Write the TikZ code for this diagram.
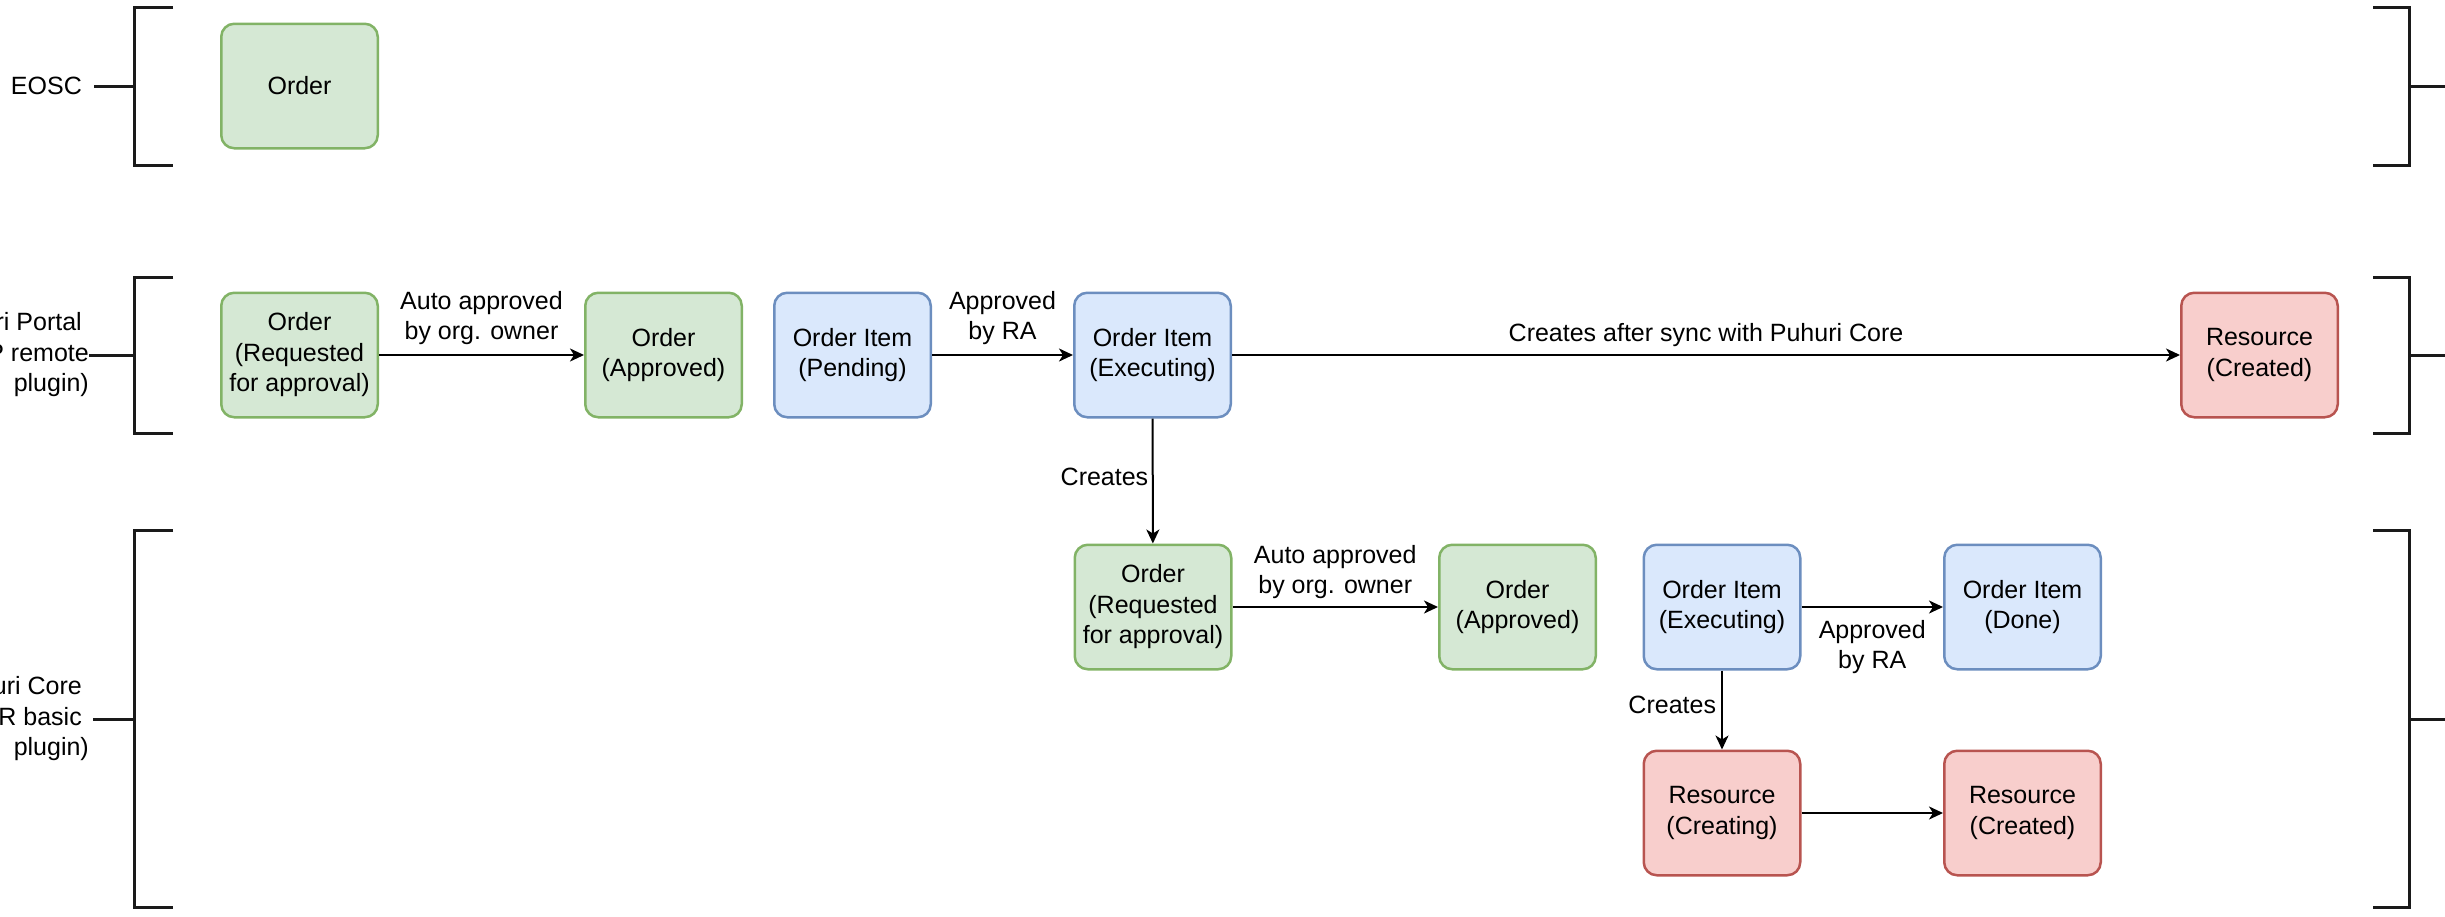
\documentclass[tikz,border=0pt]{standalone}
\usepackage{fontspec}
\setmainfont{Liberation Sans}
\usetikzlibrary{arrows.meta}

\definecolor{ordfill}{HTML}{D5E8D4}
\definecolor{ordline}{HTML}{82B366}
\definecolor{itemfill}{HTML}{DAE8FC}
\definecolor{itemline}{HTML}{6C8EBF}
\definecolor{resfill}{HTML}{F8CECC}
\definecolor{resline}{HTML}{B85450}
\definecolor{ink}{HTML}{1A1A1A}

\begin{document}
\begin{tikzpicture}[
  x=1pt, y=-1pt,
  font=\fontsize{25}{30.5}\selectfont,
  state/.style={rounded corners=13pt, line width=2.5pt, minimum width=156.5pt,
    minimum height=124.5pt, align=center, inner sep=0pt},
  orderbox/.style={state, fill=ordfill, draw=ordline},
  itembox/.style={state, fill=itemfill, draw=itemline},
  resbox/.style={state, fill=resfill, draw=resline},
  flow/.style={line width=2pt, draw=black, -{Stealth[length=14pt,width=13pt,inset=4pt]}},
  lbl/.style={align=center, inner sep=0pt},
  lane/.style={align=right, inner sep=0pt, anchor=east},
  bracket/.style={line width=3pt, draw=ink}
]
\useasboundingbox (0,0) rectangle (2445,916);
\clip (0,0) rectangle (2445,916);

% ---- swimlane brackets, left side ----
\draw[bracket] (173,7)   -- (134,7)   -- (134,165) -- (173,165);
\draw[bracket] (173,277) -- (134,277) -- (134,433) -- (173,433);
\draw[bracket] (173,530) -- (134,530) -- (134,907) -- (173,907);
\coordinate (lb1) at (134,86);
\coordinate (lb2) at (134,355);
\coordinate (lb3) at (134,719);

% ---- swimlane brackets, right side ----
\draw[bracket] (2373,7)   -- (2409,7)   -- (2409,165) -- (2373,165);
\draw[bracket] (2373,277) -- (2409,277) -- (2409,433) -- (2373,433);
\draw[bracket] (2373,530) -- (2409,530) -- (2409,907) -- (2373,907);
\coordinate (rb1) at (2409,86);
\coordinate (rb2) at (2409,355);
\coordinate (rb3) at (2409,719);
\coordinate (re1) at (2445,86);
\coordinate (re2) at (2445,355);
\coordinate (re3) at (2445,719);
\draw[bracket] (rb1) -- (re1);
\draw[bracket] (rb2) -- (re2);
\draw[bracket] (rb3) -- (re3);

% ---- lane names ----
\node[lane] (lane1) at (89,86)  {EOSC\kern7pt};
\node[lane] (lane2) at (89,355) {Puhuri Portal\kern7pt\\P remote\\plugin)};
\node[lane] (lane3) at (89,719) {Puhuri Core\kern7pt\\R basic\kern7pt\\plugin)};
\draw[bracket] ([xshift=5pt]lane1.east) -- (lb1);
\draw[bracket] (lane2.east) -- (lb2);
\draw[bracket] ([xshift=4pt]lane3.east) -- (lb3);

% ---- EOSC ----
\node[orderbox] (e1) at (299.5,86) {Order};

% ---- Puhuri Portal ----
\node[orderbox] (p1) at (299.5,355)  {Order\\(Requested\\for approval)};
\node[orderbox] (p2) at (663.5,355)  {Order\\(Approved)};
\node[itembox]  (p3) at (852.5,355)  {Order Item\\(Pending)};
\node[itembox]  (p4) at (1152.5,355) {Order Item\\(Executing)};
\node[resbox]   (p5) at (2259.5,355) {Resource\\(Created)};

% ---- Puhuri Core ----
\node[orderbox] (c1) at (1153,607)   {Order\\(Requested\\for approval)};
\node[orderbox] (c2) at (1517.5,607) {Order\\(Approved)};
\node[itembox]  (c3) at (1722,607)   {Order Item\\(Executing)};
\node[itembox]  (c4) at (2022.5,607) {Order Item\\(Done)};
\node[resbox]   (c5) at (1722,813)   {Resource\\(Creating)};
\node[resbox]   (c6) at (2022.5,813) {Resource\\(Created)};

% ---- transitions ----
\draw[flow] (p1) -- node[lbl, yshift=37pt] {Auto approved\\by org. owner} (p2);
\draw[flow] (p3) -- node[lbl, yshift=37pt] {Approved\\by RA} (p4);
\draw[flow] (p4) -- node[lbl, yshift=20pt] {Creates after sync with Puhuri Core} (p5);
\draw[flow] (p4) -- node[lbl, pos=0.47, anchor=east, xshift=-3.5pt] {Creates} (c1);
\draw[flow] (c1) -- node[lbl, yshift=35pt] {Auto approved\\by org. owner} (c2);
\draw[flow] (c3) -- node[lbl, yshift=-40pt] {Approved\\by RA} (c4);
\draw[flow] (c3) -- node[lbl, pos=0.44, anchor=east, xshift=-5pt] {Creates} (c5);
\draw[flow] (c5) -- (c6);
\end{tikzpicture}
\end{document}
